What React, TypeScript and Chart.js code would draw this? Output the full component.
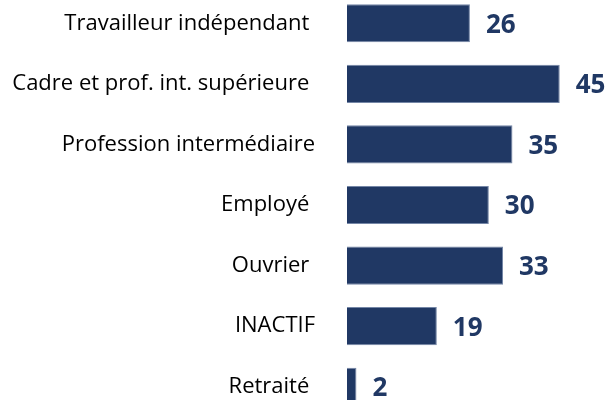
import React, { useEffect, useRef } from "react";
import { Chart, registerables } from "chart.js";

Chart.register(...registerables);

const categories = [
  "Travailleur indépendant ",
  "Cadre et prof. int. supérieure ",
  "Profession intermédiaire",
  "Employé ",
  "Ouvrier ",
  "INACTIF",
  "Retraité ",
];
const values = [26, 45, 35, 30, 33, 19, 2];

const BAR_COLOR = "#203864";

const valueLabels = {
  id: "valueLabels",
  afterDatasetsDraw(chart: any) {
    const ctx = chart.ctx;
    const meta = chart.getDatasetMeta(0);
    ctx.save();
    ctx.font = "bold 26px 'Open Sans'";
    ctx.fillStyle = BAR_COLOR;
    ctx.textAlign = "left";
    ctx.textBaseline = "middle";
    meta.data.forEach((bar: any, i: number) => {
      ctx.fillText(String(values[i]), bar.x + 16, bar.y + 2);
    });
    ctx.restore();
  },
};

export default function App() {
  const ref = useRef<HTMLCanvasElement | null>(null);
  useEffect(() => {
    if (!ref.current) return;
    const chart = new Chart(ref.current, {
      type: "bar",
      data: {
        labels: categories,
        datasets: [
          {
            data: values,
            backgroundColor: BAR_COLOR,
            borderColor: "#7486a6",
            borderWidth: 1,
            barPercentage: 0.63,
            categoryPercentage: 1,
          },
        ],
      },
      options: {
        indexAxis: "y",
        animation: false,
        responsive: true,
        maintainAspectRatio: false,
        devicePixelRatio: 1,
        layout: { padding: { left: 0, right: 3, top: 0, bottom: 0 } },
        plugins: {
          legend: { display: false },
          tooltip: { enabled: false },
          title: { display: false },
        },
        scales: {
          x: { display: false, min: 0, max: 55 },
          y: {
            grid: { display: false, drawTicks: false },
            border: { display: false },
            ticks: {
              color: "#000000",
              font: { family: "'Open Sans'", size: 22 },
              padding: 32,
            },
            afterFit(scale: any) {
              scale.width = 347;
              scale.paddingTop = 0;
              scale.paddingBottom = 0;
            },
          },
        },
      },
      plugins: [valueLabels],
    });
    return () => chart.destroy();
  }, []);
  return (
    <div
      style={{
        position: "fixed",
        left: 0,
        top: 0,
        width: 610,
        height: 400,
        overflow: "hidden",
        background: "#ffffff",
      }}
    >
      <div style={{ position: "absolute", left: 0, top: -7, width: 610, height: 424 }}>
        <canvas ref={ref} style={{ display: "block" }} />
      </div>
    </div>
  );
}
